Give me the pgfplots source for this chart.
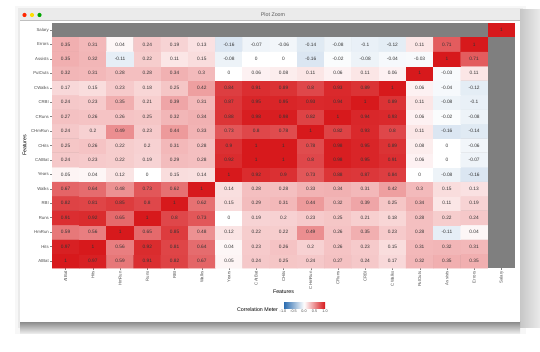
\documentclass[border=0pt]{standalone}
\usepackage{fontspec}
\setmainfont{Liberation Sans}
\usepackage{pgfplots}
\pgfplotsset{compat=1.18}
\definecolor{cmblue}{RGB}{33,102,172}
\definecolor{cmred}{RGB}{215,25,28}
\definecolor{nagray}{RGB}{127,127,127}
\definecolor{lab}{RGB}{77,77,77}
\begin{document}
\begin{tikzpicture}
\useasboundingbox (0pt,0pt) rectangle (540pt,352pt);
\fill[white] (0pt,0pt) rectangle (540pt,352pt);
% window shadow
\fill[black,opacity=0.03] (15pt,18pt) rectangle (526pt,346pt);
\fill[black,opacity=0.05] (18pt,24pt) rectangle (523pt,344pt);
\shade[left color=black!22, right color=black!8] (520pt,24pt) rectangle (540pt,342pt);
\shade[top color=black!45, bottom color=black!5] (20pt,18pt) rectangle (520pt,30pt);
% window
\fill[white] (20pt,30pt) rectangle (520pt,342pt);
\fill[black!8] (20pt,331.5pt) rectangle (520pt,342pt);
\draw[black!25,line width=0.3pt] (20pt,331.5pt) -- (520pt,331.5pt);
\fill[red!70!orange] (24.5pt,337pt) circle (2.1pt);
\fill[yellow!80!orange] (32pt,337pt) circle (2.1pt);
\fill[green!65!black] (39.5pt,337pt) circle (2.1pt);
\node[font=\fontsize{5.3}{6}\selectfont, text=black!65] at (273pt,337pt) {Plot Zoom};
\begin{axis}[
  at={(52pt,83.8pt)}, anchor=south west,
  width=463pt, height=245.4pt, scale only axis,
  xmin=-0.5, xmax=16.5, ymin=-0.5, ymax=16.5,
  axis background/.style={fill=nagray},
  axis line style={draw=none},
  colormap={corr}{rgb255(0cm)=(33,102,172); rgb255(1cm)=(255,255,255); rgb255(2cm)=(215,25,28)},
  point meta min=-1, point meta max=1,
  xtick={0,...,16}, ytick={0,...,16},
  xticklabels={AtBat,Hits,HmRun,Runs,RBI,Walks,Years,CAtBat,CHits,CHmRun,CRuns,CRBI,CWalks,PutOuts,Assists,Errors,Salary},
  yticklabels={AtBat,Hits,HmRun,Runs,RBI,Walks,Years,CAtBat,CHits,CHmRun,CRuns,CRBI,CWalks,PutOuts,Assists,Errors,Salary},
  tick pos=left, tick align=outside, major tick length=2pt,
  tick style={lab!70, line width=0.35pt},
  xticklabel style={rotate=90, anchor=east, font=\fontsize{4.3}{5}\selectfont, text=lab, inner sep=1pt},
  yticklabel style={font=\fontsize{4.3}{5}\selectfont, text=lab, inner sep=1pt},
  xlabel={Features}, ylabel={Features},
  xlabel style={at={(axis description cs:0.5,-0.097)}, anchor=center, font=\fontsize{5.3}{6}\selectfont},
  ylabel style={at={(axis description cs:-0.059,0.5)}, anchor=center, rotate=0, font=\fontsize{5.3}{6}\selectfont},
  colorbar horizontal,
  colorbar style={
    at={(0.5443,-0.154)}, anchor=center,
    width=42pt, height=6pt, scale only axis,
    xtick={-1,-0.5,0,0.5,1},
    xticklabels={-1.0,-0.5,0.0,0.5,1.0},
    xticklabel style={font=\fontsize{3.8}{4}\selectfont, text=lab, inner sep=0.6pt},
    major tick length=0pt, axis line style={draw=none},
  },
]
\addplot[matrix plot*, mesh/cols=16, point meta=explicit,
  nodes near coords,
  nodes near coords style={anchor=center, font=\fontsize{4.8}{5}\selectfont, text=black!80,
    /pgf/number format/fixed, /pgf/number format/precision=2,
    /pgf/number format/assume math mode=true}]
table[row sep=\\, meta=c]{
x y c\\
0 0 1\\ 1 0 0.97\\ 2 0 0.59\\ 3 0 0.91\\ 4 0 0.82\\ 5 0 0.67\\ 6 0 0.05\\ 7 0 0.24\\ 8 0 0.25\\ 9 0 0.24\\ 10 0 0.27\\ 11 0 0.24\\ 12 0 0.17\\ 13 0 0.32\\ 14 0 0.35\\ 15 0 0.35\\
0 1 0.97\\ 1 1 1\\ 2 1 0.56\\ 3 1 0.92\\ 4 1 0.81\\ 5 1 0.64\\ 6 1 0.04\\ 7 1 0.23\\ 8 1 0.26\\ 9 1 0.2\\ 10 1 0.26\\ 11 1 0.23\\ 12 1 0.15\\ 13 1 0.31\\ 14 1 0.32\\ 15 1 0.31\\
0 2 0.59\\ 1 2 0.56\\ 2 2 1\\ 3 2 0.65\\ 4 2 0.85\\ 5 2 0.48\\ 6 2 0.12\\ 7 2 0.22\\ 8 2 0.22\\ 9 2 0.49\\ 10 2 0.26\\ 11 2 0.35\\ 12 2 0.23\\ 13 2 0.28\\ 14 2 -0.11\\ 15 2 0.04\\
0 3 0.91\\ 1 3 0.92\\ 2 3 0.65\\ 3 3 1\\ 4 3 0.8\\ 5 3 0.73\\ 6 3 0\\ 7 3 0.19\\ 8 3 0.2\\ 9 3 0.23\\ 10 3 0.25\\ 11 3 0.21\\ 12 3 0.18\\ 13 3 0.28\\ 14 3 0.22\\ 15 3 0.24\\
0 4 0.82\\ 1 4 0.81\\ 2 4 0.85\\ 3 4 0.8\\ 4 4 1\\ 5 4 0.62\\ 6 4 0.15\\ 7 4 0.29\\ 8 4 0.31\\ 9 4 0.44\\ 10 4 0.32\\ 11 4 0.39\\ 12 4 0.25\\ 13 4 0.34\\ 14 4 0.11\\ 15 4 0.19\\
0 5 0.67\\ 1 5 0.64\\ 2 5 0.48\\ 3 5 0.73\\ 4 5 0.62\\ 5 5 1\\ 6 5 0.14\\ 7 5 0.28\\ 8 5 0.28\\ 9 5 0.33\\ 10 5 0.34\\ 11 5 0.31\\ 12 5 0.42\\ 13 5 0.3\\ 14 5 0.15\\ 15 5 0.13\\
0 6 0.05\\ 1 6 0.04\\ 2 6 0.12\\ 3 6 0\\ 4 6 0.15\\ 5 6 0.14\\ 6 6 1\\ 7 6 0.92\\ 8 6 0.9\\ 9 6 0.73\\ 10 6 0.88\\ 11 6 0.87\\ 12 6 0.84\\ 13 6 0\\ 14 6 -0.08\\ 15 6 -0.16\\
0 7 0.24\\ 1 7 0.23\\ 2 7 0.22\\ 3 7 0.19\\ 4 7 0.29\\ 5 7 0.28\\ 6 7 0.92\\ 7 7 1\\ 8 7 1\\ 9 7 0.8\\ 10 7 0.98\\ 11 7 0.95\\ 12 7 0.91\\ 13 7 0.06\\ 14 7 0\\ 15 7 -0.07\\
0 8 0.25\\ 1 8 0.26\\ 2 8 0.22\\ 3 8 0.2\\ 4 8 0.31\\ 5 8 0.28\\ 6 8 0.9\\ 7 8 1\\ 8 8 1\\ 9 8 0.78\\ 10 8 0.98\\ 11 8 0.95\\ 12 8 0.89\\ 13 8 0.08\\ 14 8 0\\ 15 8 -0.06\\
0 9 0.24\\ 1 9 0.2\\ 2 9 0.49\\ 3 9 0.23\\ 4 9 0.44\\ 5 9 0.33\\ 6 9 0.73\\ 7 9 0.8\\ 8 9 0.78\\ 9 9 1\\ 10 9 0.82\\ 11 9 0.93\\ 12 9 0.8\\ 13 9 0.11\\ 14 9 -0.16\\ 15 9 -0.14\\
0 10 0.27\\ 1 10 0.26\\ 2 10 0.26\\ 3 10 0.25\\ 4 10 0.32\\ 5 10 0.34\\ 6 10 0.88\\ 7 10 0.98\\ 8 10 0.98\\ 9 10 0.82\\ 10 10 1\\ 11 10 0.94\\ 12 10 0.93\\ 13 10 0.06\\ 14 10 -0.02\\ 15 10 -0.08\\
0 11 0.24\\ 1 11 0.23\\ 2 11 0.35\\ 3 11 0.21\\ 4 11 0.39\\ 5 11 0.31\\ 6 11 0.87\\ 7 11 0.95\\ 8 11 0.95\\ 9 11 0.93\\ 10 11 0.94\\ 11 11 1\\ 12 11 0.89\\ 13 11 0.11\\ 14 11 -0.08\\ 15 11 -0.1\\
0 12 0.17\\ 1 12 0.15\\ 2 12 0.23\\ 3 12 0.18\\ 4 12 0.25\\ 5 12 0.42\\ 6 12 0.84\\ 7 12 0.91\\ 8 12 0.89\\ 9 12 0.8\\ 10 12 0.93\\ 11 12 0.89\\ 12 12 1\\ 13 12 0.06\\ 14 12 -0.04\\ 15 12 -0.12\\
0 13 0.32\\ 1 13 0.31\\ 2 13 0.28\\ 3 13 0.28\\ 4 13 0.34\\ 5 13 0.3\\ 6 13 0\\ 7 13 0.06\\ 8 13 0.08\\ 9 13 0.11\\ 10 13 0.06\\ 11 13 0.11\\ 12 13 0.06\\ 13 13 1\\ 14 13 -0.03\\ 15 13 0.11\\
0 14 0.35\\ 1 14 0.32\\ 2 14 -0.11\\ 3 14 0.22\\ 4 14 0.11\\ 5 14 0.15\\ 6 14 -0.08\\ 7 14 0\\ 8 14 0\\ 9 14 -0.16\\ 10 14 -0.02\\ 11 14 -0.08\\ 12 14 -0.04\\ 13 14 -0.03\\ 14 14 1\\ 15 14 0.71\\
0 15 0.35\\ 1 15 0.31\\ 2 15 0.04\\ 3 15 0.24\\ 4 15 0.19\\ 5 15 0.13\\ 6 15 -0.16\\ 7 15 -0.07\\ 8 15 -0.06\\ 9 15 -0.14\\ 10 15 -0.08\\ 11 15 -0.1\\ 12 15 -0.12\\ 13 15 0.11\\ 14 15 0.71\\ 15 15 1\\
};
\addplot[fill=cmred, draw=none] coordinates {(15.5,15.5) (16.5,15.5) (16.5,16.5) (15.5,16.5)} -- cycle;
\addplot[draw=none, mark=none, nodes near coords, point meta=explicit symbolic,
  nodes near coords style={anchor=center, font=\fontsize{4.8}{5}\selectfont, text=black!80}]
  coordinates {(16,16) [1]};
\end{axis}
\node[font=\fontsize{5.3}{6}\selectfont, anchor=east] at (281.5pt,42.5pt) {Correlation Meter};
\end{tikzpicture}
\end{document}
